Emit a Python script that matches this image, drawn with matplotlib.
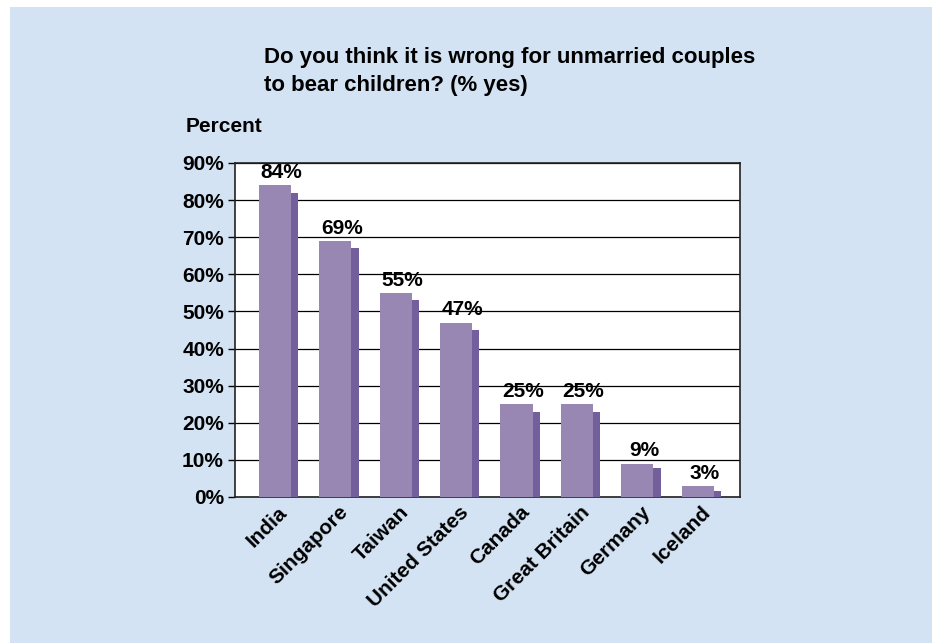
import matplotlib
matplotlib.use("Agg")
import matplotlib.pyplot as plt
from matplotlib.patches import Rectangle
import matplotlib.transforms as mtransforms

countries = ["India", "Singapore", "Taiwan", "United States", "Canada",
             "Great Britain", "Germany", "Iceland"]
percent_yes = [84, 69, 55, 47, 25, 25, 9, 3]
y_ticks = [0, 10, 20, 30, 40, 50, 60, 70, 80, 90]

plt.rcParams['font.family'] = ['Liberation Sans', 'DejaVu Sans']
plt.rcParams['font.weight'] = 'bold'

BG = '#d3e3f3'
FRONT = '#9787b2'
SIDE = '#735f9b'
FS = 15

fig = plt.figure(figsize=(9.32, 6.43), dpi=100)
fig.patch.set_facecolor('white')
fig.patches.append(Rectangle((10 / 932, 0), 1, 1 - 7 / 643, transform=fig.transFigure,
                             facecolor=BG, edgecolor='none', zorder=-10))

ax = fig.add_axes([235 / 932, 1 - 497 / 643, 505 / 932, 334 / 643])
ax.set_facecolor('white')

x = list(range(len(countries)))
front_w = 0.53
side_w = 0.12
side_h = [v - 2 if v > 10 else v - 1.3 for v in percent_yes]
front_left = [i - (front_w + side_w) / 2 for i in x]
side_left = [l + front_w for l in front_left]

ax.bar(side_left, side_h, width=side_w, align='edge', color=SIDE, zorder=3)
ax.bar(front_left, percent_yes, width=front_w, align='edge', color=FRONT, zorder=4)

for i, v in zip(x, percent_yes):
    ax.text(front_left[i] + front_w / 2 + 0.11, v + 0.9, f"{v}%", ha='center', va='bottom',
            fontsize=FS, fontweight='bold', zorder=5)

ax.set_ylim(0, 90)
ax.set_xlim(-0.72, 7.64)
ax.set_yticks(y_ticks)
ax.set_yticklabels([f"{t}%" for t in y_ticks], fontsize=FS, fontweight='bold')
ax.yaxis.grid(True, color='black', linewidth=0.9)
ax.set_axisbelow(True)
ax.tick_params(axis='y', length=5, width=1, pad=3)
ax.tick_params(axis='x', length=0, pad=4)
ax.set_xticks([l + front_w / 2 for l in front_left])
ax.set_xticklabels(countries, rotation=45, ha='right', rotation_mode='anchor',
                   fontsize=FS, fontweight='bold')
shift = mtransforms.ScaledTranslation(3 / 100, 0, fig.dpi_scale_trans)
for lab in ax.get_xticklabels():
    lab.set_transform(lab.get_transform() + shift)
for s in ax.spines.values():
    s.set_linewidth(1.2)
    s.set_color('#222222')

fig.text(264 / 932, 1 - 57 / 643, "Do you think it is wrong for unmarried couples",
         ha='left', va='center', fontsize=16, fontweight='bold')
fig.text(264 / 932, 1 - 85 / 643, "to bear children? (% yes)",
         ha='left', va='center', fontsize=16, fontweight='bold')
fig.text(186 / 932, 1 - 126 / 643, "Percent", ha='left', va='center',
         fontsize=FS, fontweight='bold')

fig.savefig("out.png", dpi=100, facecolor=fig.get_facecolor())
